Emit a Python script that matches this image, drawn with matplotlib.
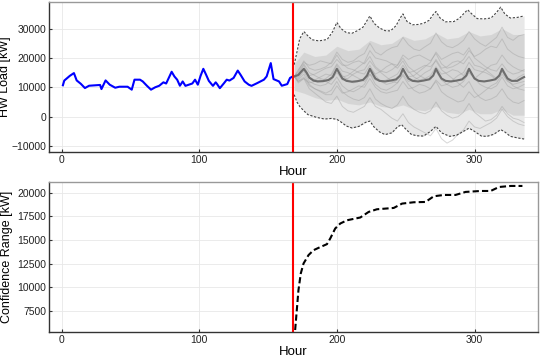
#!/usr/bin/env python
import matplotlib
matplotlib.use("Agg")
import matplotlib.pyplot as plt
import numpy as np

# observed hot-water load, hours 1..168
obs_hours = [1, 2, 6, 9, 11, 14, 17, 20, 28, 29, 32, 35, 39, 42, 48, 51, 53, 57, 59, 62,
             65, 68, 71, 74, 76, 80, 82, 84, 86, 88, 90, 95, 97, 99, 101, 103, 105, 107,
             110, 112, 113, 115, 118, 120, 122, 125, 128, 130, 133, 136, 138, 142, 147,
             149, 152, 154, 158, 160, 164, 166, 168]
obs_load = [10700, 12300, 13900, 14850, 12350, 11200, 9750, 10540, 10800, 9400, 12350,
            10900, 9860, 10200, 10200, 9200, 12600, 12600, 12000, 10540, 9200, 10000,
            10540, 11700, 11300, 15300, 13700, 12600, 10540, 12000, 10500, 11300, 12600,
            10900, 13900, 16300, 14300, 12200, 10500, 11700, 11100, 9700, 11400, 12600,
            12300, 13200, 15700, 14300, 12000, 10900, 10500, 11400, 12600, 13700, 18250,
            12800, 12000, 10540, 11100, 13200, 13700]

# forecast mean
mean_hours = [169, 172, 174, 176, 178, 180, 183, 186, 190, 194, 197, 200, 202, 204, 207,
              211, 215, 219, 222, 224, 226, 228, 231, 235, 239, 243, 246, 248, 250, 252,
              255, 259, 263, 267, 270, 272, 274, 276, 279, 283, 287, 291, 294, 296, 298,
              300, 303, 307, 311, 315, 318, 320, 322, 324, 327, 331, 334, 336]
mean_load = [13700, 14200, 15300, 16300, 15000, 13300, 12300, 12000, 12100, 12500, 13500,
             16300, 14600, 13000, 12200, 11900, 12100, 12500, 14000, 16300, 14600, 13000,
             12200, 12000, 12300, 12700, 14000, 16300, 14600, 13000, 12200, 12000, 12300,
             12700, 14000, 16300, 14600, 13000, 12200, 12000, 12300, 12700, 14000, 16300,
             14600, 13000, 12200, 12000, 12300, 12700, 14000, 16300, 14600, 13000, 12200,
             12200, 13000, 13500]

# upper / lower confidence bounds
upper_hours = [169, 171, 173, 176, 179, 182, 187, 193, 197, 200, 203, 207, 211, 215, 219,
               222, 224, 227, 231, 235, 239, 243, 246, 248, 251, 255, 259, 263, 267, 270,
               272, 275, 279, 285, 289, 293, 295, 298, 302, 307, 312, 316, 319, 322, 326,
               331, 336]
upper_load = [17700, 22000, 26500, 29000, 27500, 26200, 25800, 26300, 29000, 32100, 30000,
              28600, 28400, 29300, 30500, 32800, 34300, 31800, 30200, 29300, 29200, 31000,
              33600, 35000, 32400, 31300, 31400, 31800, 32800, 34800, 35800, 33600, 32300,
              32400, 33500, 35500, 36400, 35000, 33400, 33300, 33600, 35500, 37300, 35000,
              33600, 33800, 34300]
lower_hours = [169, 171, 173, 176, 179, 185, 191, 196, 200, 203, 207, 211, 216, 221, 224,
               227, 231, 235, 240, 244, 247, 250, 254, 258, 263, 268, 272, 276, 282, 287,
               292, 296, 300, 305, 309, 314, 319, 322, 326, 331, 336]
lower_load = [7500, 5000, 3500, 2000, 700, -200, -800, -600, -900, -1800, -3200, -3850,
              -3300, -1900, -1500, -3500, -5200, -6100, -5500, -3500, -2700, -4200, -6000,
              -6500, -6600, -5000, -3300, -5500, -6700, -6300, -5000, -3900, -5000, -6600,
              -6700, -6000, -4400, -5200, -6700, -7200, -7600]

# density of the sample cloud
cloud_hours = [169, 176, 184, 192, 200, 208, 216, 224, 232, 240, 248, 256, 264, 272, 280,
               288, 296, 304, 312, 320, 328, 336]
cloud_lo = [9000, 8000, 6500, 5500, 6000, 4500, 4000, 5000, 3500, 3000, 4000, 2500, 2000,
            3500, 1500, 1000, 2500, 1000, 1000, 2500, 500, 500]
cloud_hi = [18000, 22000, 20500, 21000, 24000, 22500, 23000, 26000, 24500, 25000, 27500,
            26000, 26500, 28500, 26500, 27000, 29000, 27500, 28000, 30000, 28000, 28000]

# a handful of forecast sample traces
sample_hours = [169, 172] + list(range(176, 337, 4))
samples = [
    [13700, 15500, 19000, 16500, 15800, 16200, 17000, 18500, 22000, 19500, 18500, 19000,
     20500, 21500, 25000, 22000, 21000, 22500, 23500, 24000, 27000, 24500, 23000, 22500,
     23800, 25000, 28500, 25500, 24000, 23500, 24500, 26000, 29000, 26500, 25000, 24000,
     25500, 27000, 30500, 27000, 26000, 27500, 28000],
    [13700, 12000, 13500, 10500, 9500, 8800, 8000, 9000, 12000, 8500, 7000, 6000, 5500,
     6500, 9500, 6000, 4500, 3500, 2800, 4000, 7000, 4000, 2500, 1500, 1000, 2000, 5000,
     2000, 500, -500, 0, 1500, 4500, 1500, 0, -1500, -1000, 500, 3500, 1000, -500, -1000,
     -2000],
    [13700, 14500, 17500, 13500, 12500, 13500, 14500, 14000, 17500, 14000, 12500, 11500,
     12000, 13000, 16500, 14500, 15500, 17000, 18000, 17500, 20000, 17000, 15500, 14000,
     13000, 12500, 15500, 12500, 11000, 10000, 10500, 12000, 15000, 13000, 14500, 16000,
     17500, 18000, 21000, 18500, 17000, 16000, 15500],
    [13700, 13000, 15500, 12000, 11000, 10500, 11000, 12500, 15000, 12500, 13000, 14500,
     15500, 16000, 19000, 16500, 15000, 13500, 12000, 11500, 14000, 11000, 9000, 8000,
     8500, 9500, 12500, 10500, 11000, 12500, 14000, 15000, 18500, 16000, 15500, 15000,
     14000, 12500, 15500, 12500, 10500, 9500, 9000],
    [13700, 16000, 18500, 17500, 18000, 19000, 18500, 18000, 21000, 18000, 16500, 16000,
     15000, 14500, 17500, 14000, 12000, 11000, 11500, 12500, 15500, 13500, 14000, 15500,
     17000, 18500, 22000, 19500, 20500, 21500, 22000, 21000, 23500, 20000, 18500, 17000,
     16000, 15500, 18000, 15500, 14500, 15000, 16000],
    [13700, 11500, 13000, 11500, 12000, 12500, 12000, 11000, 13500, 10500, 9000, 8500,
     9500, 11000, 14500, 12500, 12000, 12500, 13500, 14500, 17500, 15000, 15500, 16500,
     17500, 17000, 19000, 16000, 14500, 13000, 11500, 10000, 12000, 8500, 6500, 5500,
     6000, 7000, 9500, 6500, 5000, 4500, 5500],
    [13700, 14000, 16500, 14000, 14500, 15500, 16500, 17000, 19500, 17500, 17500, 18500,
     19000, 18000, 20500, 17000, 15500, 15000, 16000, 17500, 21000, 19500, 20500, 21000,
     20000, 19000, 21500, 18000, 16500, 17000, 18000, 19500, 22500, 20500, 21500, 23000,
     24000, 23500, 26500, 23000, 21500, 20500, 20000],
    [13700, 12500, 14500, 11000, 9500, 8500, 7500, 7500, 10500, 8000, 8500, 9500, 10500,
     10000, 13000, 10000, 8500, 8000, 8500, 9000, 12000, 9500, 10000, 11000, 10500, 9500,
     12000, 8500, 7000, 6000, 5000, 5500, 8500, 6500, 7500, 9000, 10500, 11500, 14500,
     12000, 11000, 11500, 12000],
    [13700, 15000, 18000, 15000, 14000, 13000, 12500, 13000, 16500, 13500, 14000, 15500,
     17000, 18500, 22500, 20000, 19500, 19000, 18000, 16500, 19000, 15500, 13500, 12500,
     13000, 14000, 17000, 14500, 15000, 16000, 15500, 14000, 16500, 13000, 11000, 10000,
     9500, 10500, 13500, 10500, 9500, 10000, 11000],
    [13700, 13500, 16000, 13000, 12500, 12000, 13000, 14500, 18000, 15500, 15000, 14000,
     13000, 12000, 14500, 11000, 9500, 9000, 10000, 11500, 14500, 12000, 12500, 13500,
     15000, 16000, 19500, 16500, 17000, 18500, 19000, 18000, 20500, 17500, 17000, 16000,
     14500, 13000, 15500, 12500, 12000, 13500, 14500],
    [13700, 12000, 13000, 9500, 8000, 6500, 5000, 4500, 7000, 3500, 2000, 1500, 2500,
     3500, 6500, 3500, 2500, 1000, -500, -1500, 1000, -2000, -3500, -4500, -5500, -6500,
     -4000, -7500, -9000, -8000, -6000, -4500, -1500, -3500, -4000, -3000, -2000, -500,
     2500, 0, -1500, -2500, -3000],
]

# confidence range
range_hours = [169.7, 170.9, 172.1, 173.8, 175.8, 179.4, 183, 186.7, 192.8, 195.2, 198.8,
               202.5, 207.4, 217, 223.1, 229.1, 241.3, 247.4, 255.9, 264.4, 270.4, 277.7,
               286.2, 293.5, 304.4, 311.7, 317.8, 326.3, 334.8]
range_kw = [5500, 7600, 9700, 11470, 12520, 13400, 13920, 14170, 14560, 15160, 16210,
            16740, 17080, 17370, 17960, 18240, 18380, 18840, 18980, 19010, 19610, 19750,
            19750, 20070, 20170, 20170, 20590, 20700, 20700]

split_hour = 168

plt.rcParams['font.family'] = ['Liberation Sans', 'DejaVu Sans']
fig = plt.figure(figsize=(5.4, 3.6), dpi=100)
ax1 = fig.add_axes([0.091, 0.578, 0.905, 0.416])
ax2 = fig.add_axes([0.091, 0.078, 0.905, 0.416])


def style(ax):
    ax.grid(True, color='#e8e8e8', lw=0.6)
    ax.set_axisbelow(True)
    for s in ['left', 'bottom']:
        ax.spines[s].set_color('#333333')
        ax.spines[s].set_linewidth(1.0)
    for s in ['top', 'right']:
        ax.spines[s].set_color('#999999')
        ax.spines[s].set_linewidth(1.0)
    ax.tick_params(labelsize=7.5, length=2, direction='in', colors='#333333',
                   labelcolor='#222222', pad=2)
    ax.set_xlim(-9, 346)
    ax.set_xticks([0, 100, 200, 300])
    ax.set_xlabel('Hour', fontsize=9.5, labelpad=1)


style(ax1)
# band between the bounds
hh = np.arange(169, 337)
up_i = np.interp(hh, upper_hours, upper_load)
lo_i = np.interp(hh, lower_hours, lower_load)
ax1.fill_between(hh, lo_i, up_i, color='#e8e8e8', lw=0)
ax1.fill_between(cloud_hours, cloud_lo, cloud_hi, color='#c4c4c4', alpha=0.5, lw=0)
for s in samples:
    ax1.plot(sample_hours, s, color='#9a9a9a', alpha=0.4, lw=0.7)
ax1.plot(upper_hours, upper_load, color='#444444', lw=0.8, ls=(0, (2, 1.5)))
ax1.plot(lower_hours, lower_load, color='#444444', lw=0.8, ls=(0, (2, 1.5)))
ax1.plot(mean_hours, mean_load, color='#6e6e6e', lw=1.5)
ax1.plot(obs_hours, obs_load, color='#0000ff', lw=1.5)
ax1.axvline(split_hour, color='#ff0000', lw=1.5)
ax1.set_ylim(-12000, 39000)
ax1.set_yticks([-10000, 0, 10000, 20000, 30000])
ax1.set_ylabel('HW Load [kW]', fontsize=9, labelpad=0.5)

style(ax2)
ax2.plot(range_hours, range_kw, color='black', lw=1.5, ls=(0, (3, 1.5)))
ax2.axvline(split_hour, color='#ff0000', lw=1.5)
ax2.set_ylim(5300, 21100)
ax2.set_yticks([7500, 10000, 12500, 15000, 17500, 20000])
ax2.set_ylabel('Confidence Range [kW]', fontsize=9, labelpad=3)

fig.savefig('out.png', dpi=100)
